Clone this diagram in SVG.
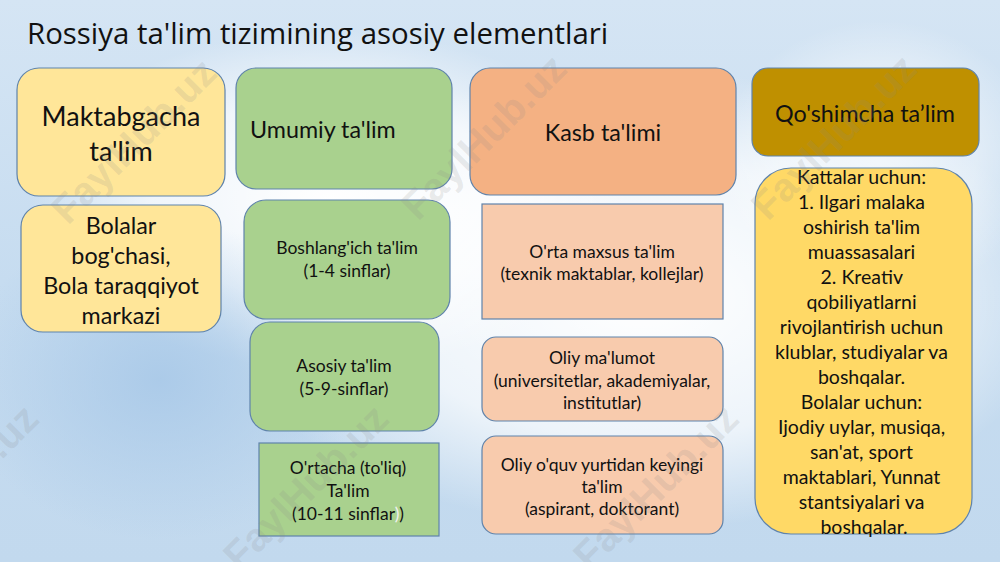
<svg xmlns="http://www.w3.org/2000/svg" width="1000" height="562" viewBox="0 0 1000 562">
<defs>
<linearGradient id="bg" x1="0" y1="0" x2="0" y2="1">
<stop offset="0" stop-color="#d5e5f4"/>
<stop offset="0.5" stop-color="#c6dcf0"/>
<stop offset="1" stop-color="#c2d9ee"/>
</linearGradient>
<radialGradient id="w1" cx="0.5" cy="0.5" r="0.5">
<stop offset="0" stop-color="#ffffff" stop-opacity="1"/>
<stop offset="0.6" stop-color="#ffffff" stop-opacity="0.7"/>
<stop offset="1" stop-color="#ffffff" stop-opacity="0"/>
</radialGradient>
<radialGradient id="b1" cx="0.5" cy="0.5" r="0.5">
<stop offset="0" stop-color="#a9c9e8" stop-opacity="0.9"/>
<stop offset="1" stop-color="#a9c9e8" stop-opacity="0"/>
</radialGradient>
<style>
.box{stroke:#5f83ab;stroke-width:1.2}
.y{fill:#ffe699}
.g{fill:#a9d18e}
.o{fill:#f4b183}
.p{fill:#f8cbad}
.d{fill:#bf9000}
.gy{fill:#ffd966}
text{font-family:"Lato","Liberation Sans",sans-serif;fill:#111}
.c{text-anchor:middle}
.s{font-size:17.5px}
.h{font-size:23.3px}
.wm{font-family:"Liberation Sans",sans-serif;font-weight:bold;font-size:40px;fill:#8a8a8a;fill-opacity:0.18}
</style>
</defs>
<rect width="1000" height="562" fill="url(#bg)"/>
<ellipse cx="640" cy="300" rx="420" ry="230" fill="url(#w1)"/>
<ellipse cx="330" cy="200" rx="300" ry="170" fill="url(#w1)"/>
<ellipse cx="160" cy="380" rx="200" ry="160" fill="url(#b1)"/>
<ellipse cx="880" cy="160" rx="160" ry="140" fill="url(#w1)" opacity="0.6"/>

<text x="27" y="44" style="font-family:'Open Sans','Liberation Sans',sans-serif;font-size:29.4px;fill:#111">Rossiya ta'lim tizimining asosiy elementlari</text>

<g id="maktabgacha">
<rect class="box y" x="17" y="68" width="208" height="128" rx="22"/>
<text class="c" x="121" y="126" font-size="27">Maktabgacha</text>
<text class="c" x="121" y="161" font-size="27">ta'lim</text>
</g>
<g id="umumiy">
<rect class="box g" x="236" y="68" width="216" height="121" rx="20"/>
<text class="h" x="250" y="138">Umumiy ta'lim</text>
</g>
<g id="kasb">
<rect class="box o" x="470" y="68" width="266" height="127" rx="20"/>
<text class="c h" x="603" y="141">Kasb ta'limi</text>
</g>
<g id="qoshimcha">
<rect class="box d" x="752" y="68" width="227" height="88" rx="16"/>
<text class="c h" x="865" y="122">Qo'shimcha ta’lim</text>
</g>

<g id="bolalar">
<rect class="box y" x="21" y="205" width="200" height="127" rx="22"/>
<text class="c" x="121" y="234" font-size="23.3">Bolalar</text>
<text class="c" x="121" y="264" font-size="23.3">bog'chasi,</text>
<text class="c" x="121" y="294" font-size="23.3">Bola taraqqiyot</text>
<text class="c" x="121" y="324" font-size="23.3">markazi</text>
</g>

<g id="boshlangich">
<rect class="box g" x="244" y="200" width="206" height="119" rx="22"/>
<text class="c s" x="347" y="254">Boshlang'ich ta'lim</text>
<text class="c s" x="347" y="277">(1-4 sinflar)</text>
</g>
<g id="asosiy">
<rect class="box g" x="250" y="322" width="189" height="109" rx="20"/>
<text class="c s" x="344" y="372">Asosiy ta'lim</text>
<text class="c s" x="344" y="395">(5-9-sinflar)</text>
</g>
<g id="ortacha">
<rect class="box g" x="259" y="443" width="180" height="93"/>
<text class="c s" x="348" y="474">O'rtacha (to'liq)</text>
<text class="c s" x="348" y="497">Ta'lim</text>
<text class="c s" x="348" y="520">(10-11 sinflar<tspan fill="#f2f2f2">)</tspan>)</text>
</g>

<g id="orta-maxsus">
<rect class="box p" x="482" y="204" width="241" height="115"/>
<text class="c s" x="602" y="258">O'rta maxsus ta'lim</text>
<text class="c s" x="602" y="280">(texnik maktablar, kollejlar)</text>
</g>
<g id="oliy">
<rect class="box p" x="482" y="337" width="241" height="84" rx="14"/>
<text class="c s" x="602" y="364">Oliy ma'lumot</text>
<text class="c s" x="602" y="387">(universitetlar, akademiyalar,</text>
<text class="c s" x="602" y="409">institutlar)</text>
</g>
<g id="oliy-keyingi">
<rect class="box p" x="482" y="436" width="241" height="98" rx="14"/>
<text class="c s" x="602" y="471">Oliy o'quv yurtidan keyingi</text>
<text class="c s" x="602" y="493">ta'lim</text>
<text class="c s" x="602" y="515">(aspirant, doktorant)</text>
</g>

<g id="qoshimcha-list">
<rect class="box gy" x="755" y="168" width="217" height="366" rx="36"/>
<text class="c" x="864" font-size="19.5">
<tspan x="864" y="184">Kattalar uchun:</tspan>
<tspan x="864" y="209">1. Ilgari malaka</tspan>
<tspan x="864" y="234">oshirish ta'lim</tspan>
<tspan x="864" y="259">muassasalari</tspan>
<tspan x="864" y="284">2. Kreativ</tspan>
<tspan x="864" y="309">qobiliyatlarni</tspan>
<tspan x="864" y="334">rivojlantirish uchun</tspan>
<tspan x="864" y="359">klublar, studiyalar va</tspan>
<tspan x="864" y="384">boshqalar.</tspan>
<tspan x="864" y="409">Bolalar uchun:</tspan>
<tspan x="864" y="434">Ijodiy uylar, musiqa,</tspan>
<tspan x="864" y="459">san'at, sport</tspan>
<tspan x="864" y="484">maktablari, Yunnat</tspan>
<tspan x="864" y="509">stantsiyalari va</tspan>
<tspan x="864" y="534">boshqalar.</tspan>
</text>
</g>

<g id="connectors"></g>

<g id="watermarks">
<text class="wm" transform="translate(68,226) rotate(-45)">FaylHub.uz</text>
<text class="wm" transform="translate(418,222) rotate(-45)">FaylHub.uz</text>
<text class="wm" transform="translate(768,222) rotate(-45)">FaylHub.uz</text>
<text class="wm" transform="translate(-110,572) rotate(-45)">FaylHub.uz</text>
<text class="wm" transform="translate(240,572) rotate(-45)">FaylHub.uz</text>
<text class="wm" transform="translate(590,572) rotate(-45)">FaylHub.uz</text>
</g>
</svg>
